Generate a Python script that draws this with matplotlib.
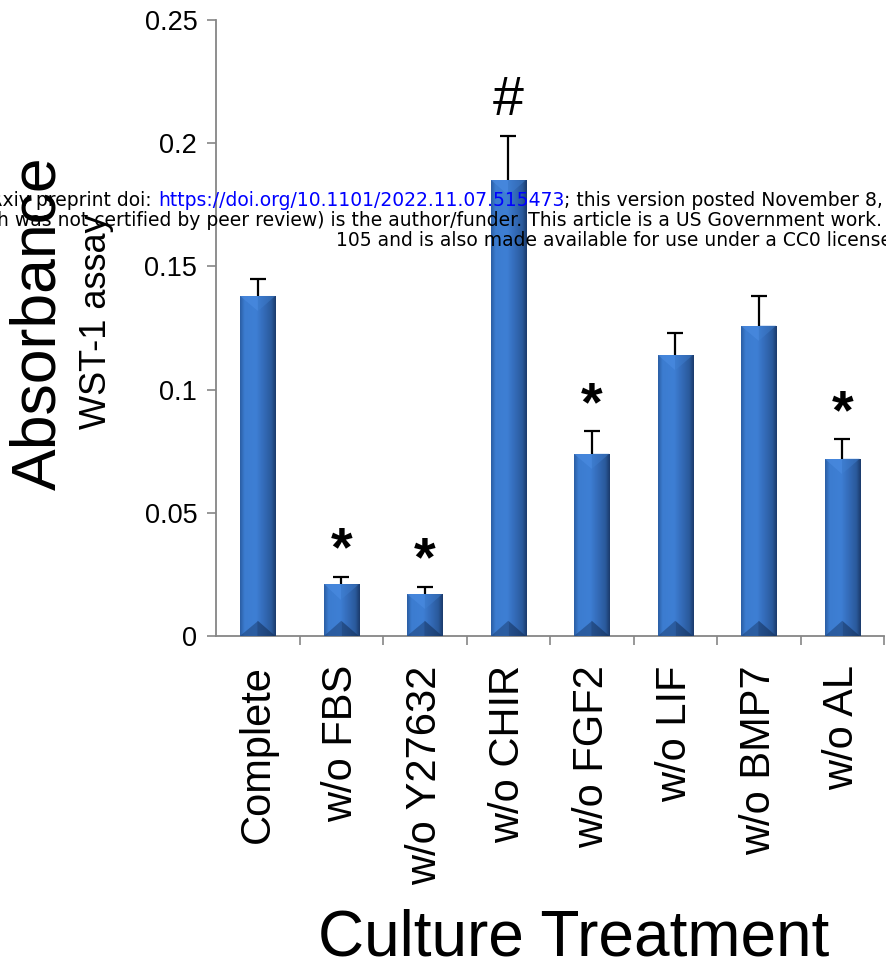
import numpy as np
import matplotlib
matplotlib.use("Agg")
import matplotlib.pyplot as plt
from matplotlib.colors import LinearSegmentedColormap
from matplotlib.patches import Polygon

# WST-1 absorbance per culture condition
treatments = ["Complete", "w/o FBS", "w/o Y27632", "w/o CHIR",
              "w/o FGF2", "w/o LIF", "w/o BMP7", "w/o AL"]
absorbance = [0.138, 0.021, 0.017, 0.185, 0.074, 0.114, 0.126, 0.072]
sem = [0.007, 0.003, 0.003, 0.018, 0.009, 0.009, 0.012, 0.008]
marks = ["", "*", "*", "#", "*", "", "", "*"]
y_ticks = [0, 0.05, 0.1, 0.15, 0.2, 0.25]
y_tick_labels = ["0", "0.05", "0.1", "0.15", "0.2", "0.25"]

plt.rcParams["font.family"] = ["Liberation Sans", "DejaVu Sans"]

W, H = 886, 968
fig = plt.figure(figsize=(W / 100, H / 100), dpi=100)
fig.patch.set_facecolor("white")


def fx(px):
    return px / W


def fy(py):
    return 1 - py / H


ax = fig.add_axes([fx(216), fy(636), fx(884) - fx(216), fy(20) - fy(636)])
x = np.arange(len(treatments))

bars = ax.bar(x, absorbance, width=0.42, color="#3671c0", zorder=2)

# bevelled bar shading
shade = LinearSegmentedColormap.from_list(
    "shade",
    [(0.0, "#2b5ea4"), (0.12, "#3c7cd0"), (0.45, "#3e7fd4"),
     (0.62, "#366fbe"), (0.88, "#2a5a9c"), (1.0, "#1b3b6c")])
grad = np.linspace(0, 1, 64).reshape(1, -1)
bevel = 0.0062
for b in bars:
    x0, w, h = b.get_x(), b.get_width(), b.get_height()
    xc = x0 + w / 2
    im = ax.imshow(grad, cmap=shade, extent=[x0, x0 + w, 0, h],
                   aspect="auto", interpolation="bicubic", zorder=3)
    im.set_clip_path(b)
    d = min(bevel, h / 2)
    ax.add_patch(Polygon([(x0, h), (xc, h), (xc, h - d)], closed=True,
                         facecolor="#4d8ee4", edgecolor="none", alpha=0.55, zorder=4))
    ax.add_patch(Polygon([(xc, h), (x0 + w, h), (xc, h - d)], closed=True,
                         facecolor="#3f7fd0", edgecolor="none", alpha=0.45, zorder=4))
    ax.add_patch(Polygon([(x0, 0), (xc, 0), (xc, d)], closed=True,
                         facecolor="#1d4278", edgecolor="none", alpha=0.55, zorder=4))
    ax.add_patch(Polygon([(xc, 0), (x0 + w, 0), (xc, d)], closed=True,
                         facecolor="#132d55", edgecolor="none", alpha=0.55, zorder=4))

# upper error bars only
eb = ax.errorbar(x, absorbance, yerr=[np.zeros(len(sem)), sem], fmt="none",
                 ecolor="black", elinewidth=1.6, capsize=6, capthick=1.6, zorder=5)
for cap in eb[1]:
    if np.allclose(cap.get_ydata(), absorbance):
        cap.set_visible(False)

# significance marks above the error bars
mark_style = {"*": dict(fontweight="bold", lift=8),
              "#": dict(fontweight="normal", lift=15)}
tops = np.array(absorbance) + np.array(sem)
for xi, t, m in zip(x, tops, marks):
    if m:
        st = mark_style[m]
        ax.annotate(m, (xi, t), xytext=(0, st["lift"]), textcoords="offset points",
                    ha="center", va="baseline", fontsize=40,
                    fontweight=st["fontweight"], zorder=6)

ax.set_xlim(-0.5, len(treatments) - 0.5)
ax.set_ylim(0, 0.25)

axis_grey = "#868686"
for side in ("top", "right"):
    ax.spines[side].set_visible(False)
for side in ("left", "bottom"):
    ax.spines[side].set_color(axis_grey)
    ax.spines[side].set_linewidth(1.3)

ax.set_yticks(y_ticks, y_tick_labels)
ax.tick_params(axis="y", direction="out", length=6.5, width=1.2,
               color=axis_grey, labelsize=19.5, pad=7)
ax.set_xticks(x, treatments, rotation=90)
ax.set_xticks(x + 0.5, minor=True)
ax.tick_params(axis="x", which="major", length=0, labelsize=30, pad=21)
ax.tick_params(axis="x", which="minor", direction="out", length=6.5,
               width=1.2, color=axis_grey)

fig.text(fx(574), fy(956), "Culture Treatment", fontsize=46,
         ha="center", va="baseline")
fig.text(fx(55), fy(323), "Absorbance", fontsize=45, rotation=90,
         rotation_mode="anchor", ha="center", va="baseline")
fig.text(fx(106), fy(322), "WST-1 assay", fontsize=26, rotation=90,
         rotation_mode="anchor", ha="center", va="baseline")

# preprint notice across the top
fig.canvas.draw()
renderer = fig.canvas.get_renderer()
note_font = dict(fontsize=13.5, family=["DejaVu Sans"])


def text_width(s):
    t = fig.text(0, 0, s, **note_font)
    wdt = t.get_window_extent(renderer).width
    t.remove()
    return wdt


l1a = "bioRxiv preprint doi: "
l1b = "https://doi.org/10.1101/2022.11.07.515473"
l1c = "; this version posted November 8, 2022. The copyright holder for this preprint"
l2 = ("(which was not certified by peer review) is the author/funder. "
      "This article is a US Government work. It is not subject to copyright under 17 USC")
l3 = "105 and is also made available for use under a CC0 license."

w3 = text_width(l3)
centre = 336 + w3 / 2
full1 = l1a + l1b + l1c
w1 = text_width(full1)
start1 = centre - w1 / 2 + 12
off_b = w1 - text_width(l1b + l1c)
off_c = w1 - text_width(l1c)
fig.text(fx(start1), fy(206), l1a, color="black", va="baseline", zorder=10, **note_font)
fig.text(fx(start1 + off_b), fy(206), l1b, color="#0000ff", va="baseline", zorder=10, **note_font)
fig.text(fx(start1 + off_c), fy(206), l1c, color="black", va="baseline", zorder=10, **note_font)
fig.text(fx(centre), fy(226), l2, color="black", ha="center", va="baseline", zorder=10, **note_font)
fig.text(fx(centre), fy(246), l3, color="black", ha="center", va="baseline", zorder=10, **note_font)

fig.savefig("out.png", dpi=100, facecolor="white")
